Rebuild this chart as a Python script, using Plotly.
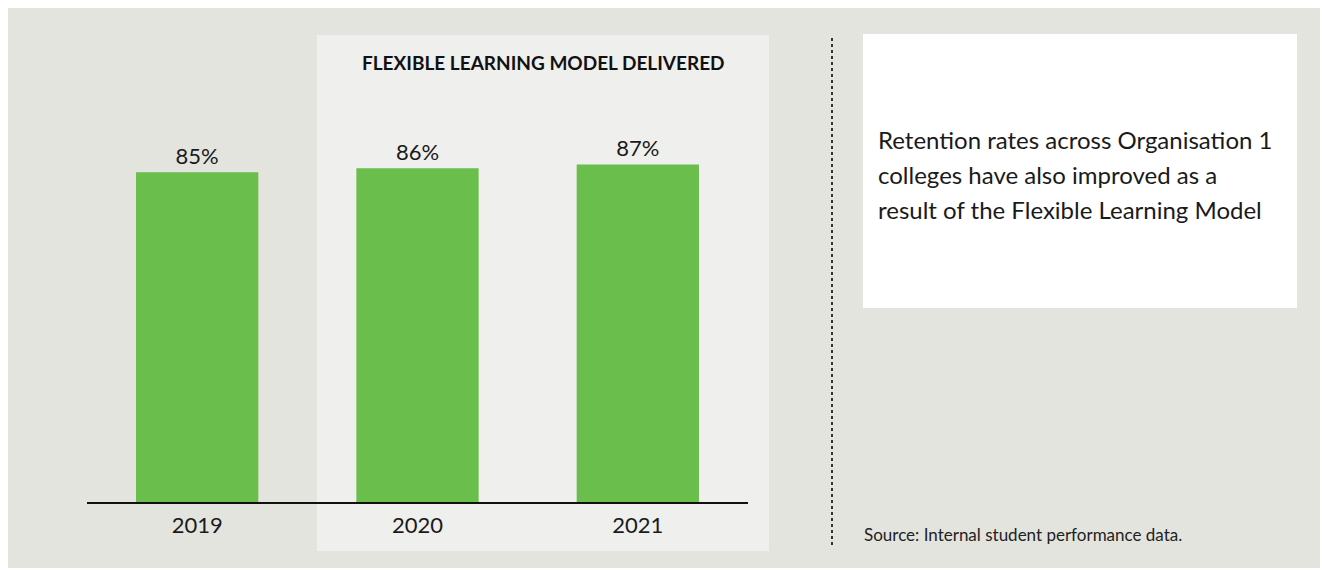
import plotly.graph_objects as go

W, H = 1322, 570

years = ["2019", "2020", "2021"]
retention = [85, 86, 87]

banner_title = "FLEXIBLE LEARNING MODEL DELIVERED"
callout_lines = [
    "Retention rates across Organisation 1",
    "colleges have also improved as a",
    "result of the Flexible Learning Model",
]
source_text = "Source: Internal student performance data."

FONT = "Lato, 'Open Sans', sans-serif"
GREEN = "#6abe4b"
PANEL = "#e4e4df"
HIGHLIGHT = "#efefed"


def px(x):
    return x / W


def py(y):
    return 1 - y / H


fig = go.Figure(
    go.Bar(
        x=years,
        y=retention,
        marker=dict(color=GREEN, line=dict(width=0)),
        texttemplate="%{y}%",
        textposition="outside",
        textfont=dict(family=FONT, size=22, color="#1a1a1a"),
        cliponaxis=False,
        hoverinfo="skip",
    )
)

shapes = [
    # outer grey panel
    dict(type="rect", xref="paper", yref="paper", layer="below",
         x0=px(8), x1=px(1320), y0=py(568), y1=py(8),
         fillcolor=PANEL, line=dict(width=0)),
    # highlighted period behind 2020-2021
    dict(type="rect", xref="paper", yref="paper", layer="below",
         x0=px(317), x1=px(769), y0=py(551), y1=py(35),
         fillcolor=HIGHLIGHT, line=dict(width=0)),
    # divider
    dict(type="line", xref="paper", yref="paper",
         x0=px(832), x1=px(832), y0=py(545), y1=py(35),
         line=dict(color="#333333", width=2, dash="dot")),
    # callout box
    dict(type="rect", xref="paper", yref="paper", layer="below",
         x0=px(863), x1=px(1297), y0=py(308), y1=py(34),
         fillcolor="white", line=dict(width=0)),
]

annotations = [
    dict(xref="paper", yref="paper", x=px(543), y=py(62),
         text=f"<b>{banner_title}</b>", showarrow=False,
         xanchor="center", yanchor="middle",
         font=dict(family=FONT, size=19, color="#111111")),
    dict(xref="paper", yref="paper", x=px(862), y=py(534),
         text=source_text, showarrow=False, align="left",
         xanchor="left", yanchor="middle",
         font=dict(family=FONT, size=17, color="#222222")),
]

# callout text, one annotation per line for wider line spacing
for i, line in enumerate(callout_lines):
    annotations.append(
        dict(xref="paper", yref="paper", x=px(876), y=py(139 + 35 * i),
             text=line, showarrow=False, align="left",
             xanchor="left", yanchor="middle",
             font=dict(family=FONT, size=24, color="#1a1a1a"))
    )

fig.update_layout(
    width=W, height=H,
    margin=dict(l=0, r=0, t=0, b=0),
    paper_bgcolor="white",
    plot_bgcolor="rgba(0,0,0,0)",
    showlegend=False,
    bargap=0.445,
    shapes=shapes,
    annotations=annotations,
    xaxis=dict(
        domain=[px(87), px(748)],
        showline=True, linecolor="#111111", linewidth=1.5,
        showgrid=False, zeroline=False,
        ticks="outside", ticklen=3, tickcolor="rgba(0,0,0,0)",
        tickfont=dict(family=FONT, size=22, color="#1a1a1a"),
        fixedrange=True,
    ),
    yaxis=dict(
        domain=[py(502), py(114)],
        range=[0, 100],
        visible=False, showgrid=False, zeroline=False,
        fixedrange=True,
    ),
)

fig.write_html("out.html")
